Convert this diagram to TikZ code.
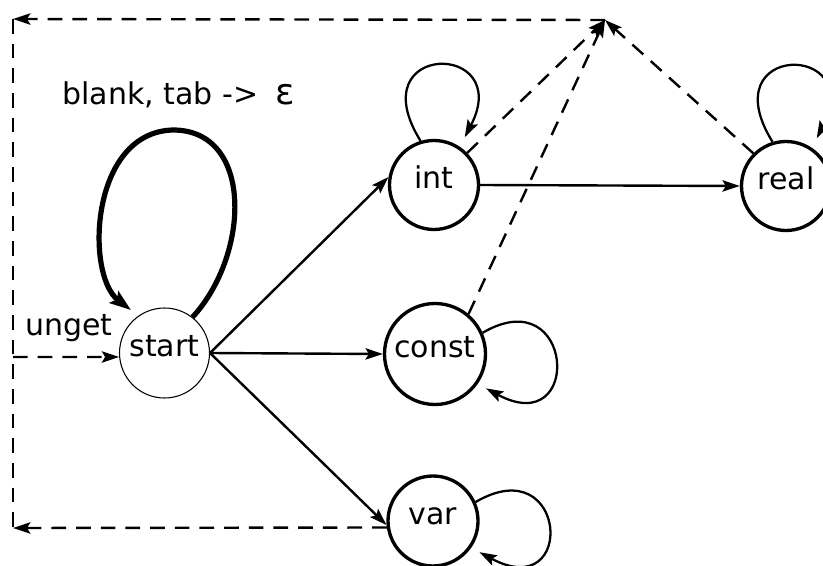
\documentclass[tikz,border=0pt]{standalone}
\usepackage{fontspec}
\setmainfont{DejaVu Sans}
\usetikzlibrary{arrows.meta}
\begin{document}
\begin{tikzpicture}[x=0.75pt,y=-0.75pt,
  every node/.style={font=\fontsize{22.5}{25}\selectfont},
  state/.style={circle,draw,line width=2.5pt,inner sep=0pt,minimum size=67pt,text height=0.75em,text depth=0.25em},
  startstate/.style={state,line width=0.8pt,minimum size=67.5pt},
  tip/.style={-{Stealth[length=13pt,width=8.5pt,inset=2.5pt]}},
  edge/.style={tip,line width=1.8pt},
  dashline/.style={line width=1.8pt,dash pattern=on 11pt off 7.5pt},
  loopline/.style={tip,line width=1.7pt},
  bigloop/.style={line width=3.9pt,-{Stealth[length=16pt,width=11pt,inset=3pt]}},
]
\fill[white] (0,0) rectangle (823,566);
\useasboundingbox (0,0) rectangle (823,566);

% states
\node[startstate] (start) at (164.5,353) {start};
\node[state,minimum size=66.75pt] (int) at (434,185) {int};
\node[state,minimum size=75.75pt] (const) at (435,354) {const};
\node[state,minimum size=67.5pt] (var) at (433,521) {var};
\node[state,minimum size=66.75pt] (real) at (786,186) {real};

% helper points
\coordinate (apex) at (605,20);
\coordinate (tl) at (13,19);
\coordinate (bl) at (13,528);
\coordinate (ul) at (13,357);

% labels
\node[anchor=base west,inner sep=0pt] (lbl) at (62,105) {blank, tab ->\hskip 13pt{\fontsize{27}{29}\selectfont ε}};
\node[anchor=base west,inner sep=0pt] (ung) at (25,335) {unget};

% solid transitions
\draw[edge] (start.east) -- (int.170);
\draw[edge] (start.east) -- (const.west);
\draw[edge] (start.east) -- (var.185);
\draw[edge] (int.east) -- (real.west);

% self loops
\draw[bigloop,shorten >=7pt] (start.52) .. controls (250,255) and (254,130) .. (173,130)
   .. controls (90,132) and (85,275) .. (start.125);
\draw[loopline,shorten >=8pt] (int.107) .. controls +(-62,-100) and +(55,-106) .. (int.56);
\draw[loopline,shorten >=8pt] (real.107) .. controls +(-62,-100) and +(55,-106) .. (real.56);
\draw[loopline,shorten >=7pt] (const.24) .. controls +(92,-54) and +(106,57) .. (const.-35);
\draw[loopline,shorten >=7pt] (var.24) .. controls +(92,-54) and +(106,57) .. (var.-35);

% dashed (unget) transitions
\draw[dashline,tip] (int.44) -- (apex);
\draw[dashline,tip] (const.50) -- (apex);
\draw[dashline,tip] (real.135) -- (apex);
\draw[dashline,tip] (apex) -- (tl);
\draw[dashline] (tl) -- (bl);
\draw[dashline,tip] (var.188) -- (bl);
\draw[dashline,tip] (ul) -- (start.185);
\end{tikzpicture}
\end{document}
